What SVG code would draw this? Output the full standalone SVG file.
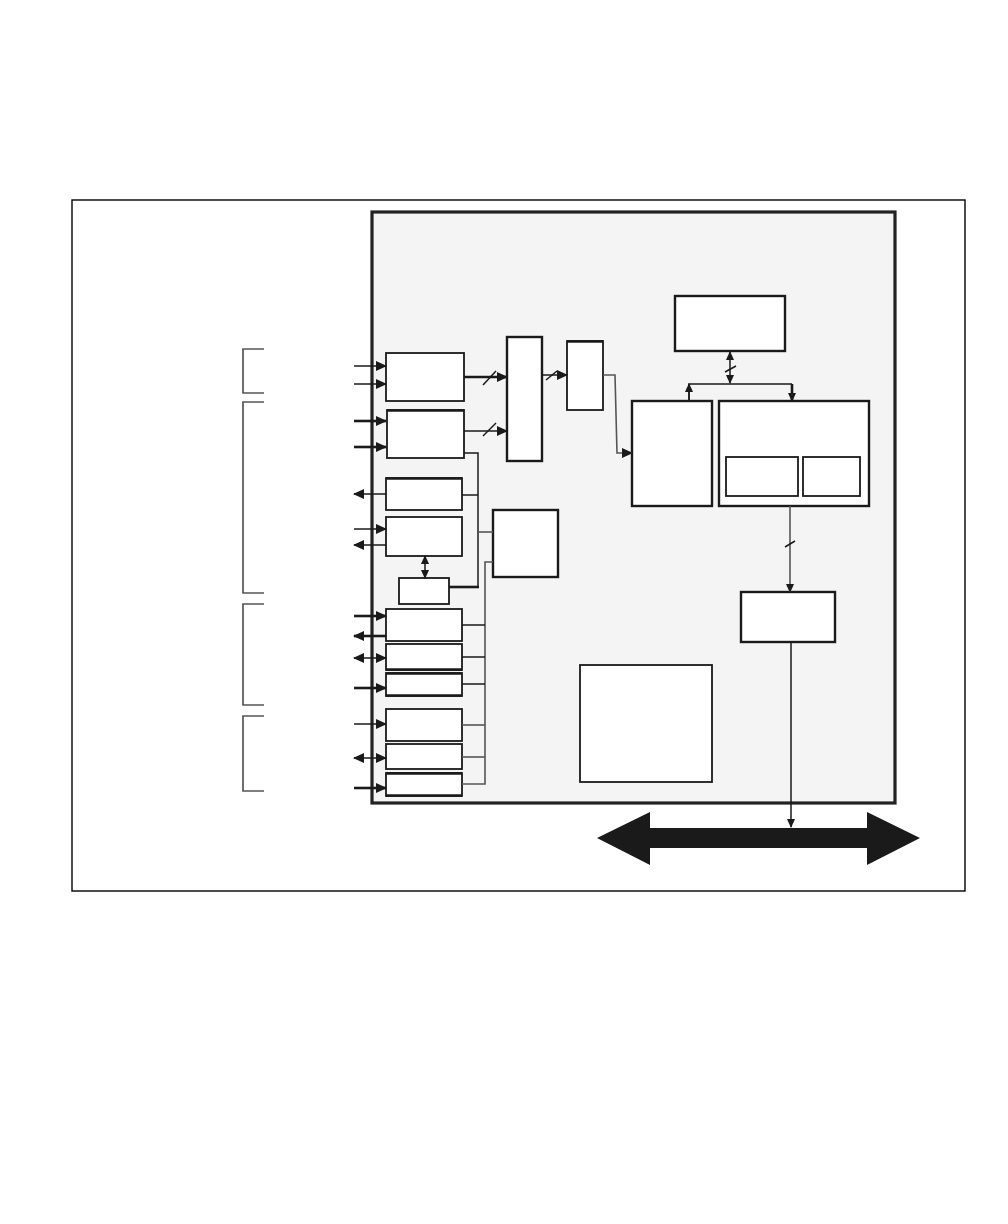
<svg xmlns="http://www.w3.org/2000/svg" width="1008" height="1224" viewBox="0 0 1008 1224">
<style>
.blk{fill:#fff;stroke:#1a1a1a;stroke-width:1.8}
.blk2{fill:#fff;stroke:#1a1a1a;stroke-width:2.4}
.ln{fill:none;stroke:#1a1a1a;stroke-width:1.5}
.lnk{fill:none;stroke:#1a1a1a;stroke-width:2.6}
.gr{fill:none;stroke:#555;stroke-width:1.6}
.br{fill:none;stroke:#555;stroke-width:1.7}
</style>
<defs>
<marker id="ah" markerUnits="userSpaceOnUse" markerWidth="11" markerHeight="10" refX="10" refY="5" orient="auto-start-reverse" viewBox="0 0 11 10">
<path d="M0,0 L11,5 L0,10 z" fill="#1a1a1a"/>
</marker>
<marker id="as" markerUnits="userSpaceOnUse" markerWidth="9" markerHeight="9" refX="8" refY="4.5" orient="auto-start-reverse" viewBox="0 0 9 9">
<path d="M0,0.5 L9,4.5 L0,8.5 z" fill="#1a1a1a"/>
</marker>
</defs>
<rect width="1008" height="1224" fill="#fff"/>
<rect id="frame" x="72" y="200" width="893" height="691" fill="#fff" stroke="#000" stroke-width="1.4"/>
<rect id="chip" x="372" y="212" width="523" height="591" fill="#f4f4f4" stroke="#222" stroke-width="3.2"/>
<g id="brackets">
<path class="br" d="M264,349 H243 V393 H264"/>
<path class="br" d="M264,402 H243 V593 H264"/>
<path class="br" d="M264,604 H243 V705 H264"/>
<path class="br" d="M264,716 H243 V791 H264"/>
</g>
<g id="b1"><rect class="blk" x="386" y="353" width="78" height="48"/></g>
<g id="b2"><rect class="blk" x="387" y="410" width="77" height="48"/><line x1="387" y1="410.5" x2="464" y2="410.5" stroke="#1a1a1a" stroke-width="2.6"/></g>
<g id="b3"><rect class="blk" x="386" y="478" width="76" height="32"/><line x1="386" y1="478.5" x2="462" y2="478.5" stroke="#1a1a1a" stroke-width="2.6"/></g>
<g id="b4"><rect class="blk" x="386" y="517" width="76" height="39"/></g>
<g id="b5"><rect class="blk" x="399" y="578" width="50" height="26"/></g>
<g id="b6"><rect class="blk" x="386" y="609" width="76" height="32"/></g>
<g id="b7"><rect class="blk" x="386" y="644" width="76" height="26"/><line x1="386" y1="669.5" x2="462" y2="669.5" stroke="#1a1a1a" stroke-width="2.6"/></g>
<g id="b8"><rect class="blk" x="386" y="673" width="76" height="23"/><line x1="386" y1="673.5" x2="462" y2="673.5" stroke="#1a1a1a" stroke-width="2.6"/><line x1="386" y1="695.5" x2="462" y2="695.5" stroke="#1a1a1a" stroke-width="2.6"/></g>
<g id="b9"><rect class="blk" x="386" y="709" width="76" height="32"/></g>
<g id="b10"><rect class="blk" x="386" y="744" width="76" height="25"/></g>
<g id="b11"><rect class="blk" x="386" y="773" width="76" height="23"/><line x1="386" y1="773.5" x2="462" y2="773.5" stroke="#1a1a1a" stroke-width="2.6"/><line x1="386" y1="795.5" x2="462" y2="795.5" stroke="#1a1a1a" stroke-width="2.6"/></g>
<g id="c"><rect class="blk2" x="493" y="510" width="65" height="67"/></g>
<g id="m"><rect class="blk2" x="507" y="337" width="35" height="124"/></g>
<g id="n"><rect class="blk" x="567" y="341" width="36" height="69"/><line x1="567" y1="341.5" x2="603" y2="341.5" stroke="#1a1a1a" stroke-width="2.6"/></g>
<g id="r"><rect class="blk2" x="675" y="296" width="110" height="55"/></g>
<g id="p"><rect class="blk2" x="632" y="401" width="80" height="105"/></g>
<g id="q"><rect class="blk2" x="719" y="401" width="150" height="105"/>
<rect class="blk" x="726" y="457" width="72" height="39"/>
<rect class="blk" x="803" y="457" width="57" height="39"/></g>
<g id="s"><rect class="blk2" x="741" y="592" width="94" height="50" stroke-width="2.6"/></g>
<g id="t"><rect class="blk" x="580" y="665" width="132" height="117"/></g>
<g id="bus"><path d="M597,838 L650,812 L650,828 L867,828 L867,812 L920,838 L867,865 L867,848 L650,848 L650,865 z" fill="#1a1a1a"/></g>
<g id="connectors">
<line class="ln" x1="354" y1="366" x2="386" y2="366" marker-end="url(#ah)"/>
<line class="ln" x1="354" y1="384" x2="386" y2="384" marker-end="url(#ah)"/>
<line class="lnk" x1="354" y1="421" x2="386" y2="421" marker-end="url(#ah)"/>
<line class="lnk" x1="354" y1="447" x2="386" y2="447" marker-end="url(#ah)"/>
<line class="ln" x1="386" y1="494" x2="354" y2="494" marker-end="url(#ah)"/>
<line class="ln" x1="354" y1="529" x2="386" y2="529" marker-end="url(#ah)"/>
<line class="ln" x1="386" y1="545" x2="354" y2="545" marker-end="url(#ah)"/>
<line class="lnk" x1="354" y1="616" x2="386" y2="616" marker-end="url(#ah)"/>
<line class="lnk" x1="386" y1="636" x2="354" y2="636" marker-end="url(#ah)"/>
<line class="ln" x1="354" y1="658" x2="386" y2="658" marker-start="url(#ah)" marker-end="url(#ah)"/>
<line class="lnk" x1="354" y1="688" x2="386" y2="688" marker-end="url(#ah)"/>
<line class="ln" x1="354" y1="724" x2="386" y2="724" marker-end="url(#ah)"/>
<line class="ln" x1="354" y1="758" x2="386" y2="758" marker-start="url(#ah)" marker-end="url(#ah)"/>
<line class="lnk" x1="354" y1="788" x2="386" y2="788" marker-end="url(#ah)"/>
<line class="ln" x1="425" y1="556" x2="425" y2="578" marker-start="url(#as)" marker-end="url(#as)"/>
<path class="ln" d="M464,453 H478 V587"/>
<line class="ln" x1="462" y1="495" x2="478" y2="495"/>
<path class="lnk" d="M449,587 H479"/>
<line class="gr" x1="478" y1="532" x2="493" y2="532"/>
<path class="gr" d="M493,562 H485 V784 H462"/>
<line class="ln" x1="462" y1="625" x2="485" y2="625"/>
<line class="ln" x1="462" y1="657" x2="485" y2="657"/>
<line class="ln" x1="462" y1="684" x2="485" y2="684"/>
<line class="gr" x1="462" y1="725" x2="485" y2="725"/>
<line class="gr" x1="462" y1="757" x2="485" y2="757"/>
<line class="lnk" x1="464" y1="377" x2="507" y2="377" marker-end="url(#ah)"/>
<line class="ln" x1="483" y1="385" x2="496" y2="371"/>
<line class="ln" x1="464" y1="431" x2="507" y2="431" marker-end="url(#ah)"/>
<line class="ln" x1="483" y1="436" x2="496" y2="423"/>
<line class="ln" x1="542" y1="375" x2="567" y2="375" marker-end="url(#ah)"/>
<line class="ln" x1="546" y1="380" x2="557" y2="371"/>
<path class="gr" d="M603,375 H615 L617,453 H632" marker-end="url(#ah)"/>
<line class="ln" x1="730" y1="352" x2="730" y2="383" marker-start="url(#as)" marker-end="url(#as)"/>
<line class="ln" x1="725" y1="372" x2="736" y2="366"/>
<path class="ln" d="M689,401 V384 H792"/>
<line class="ln" x1="689" y1="401" x2="689" y2="384" marker-end="url(#as)"/>
<line class="lnk" x1="792" y1="384" x2="792" y2="401" marker-end="url(#as)"/>
<line class="gr" x1="790" y1="506" x2="790" y2="592" marker-end="url(#as)"/>
<line class="ln" x1="785" y1="547" x2="795" y2="541"/>
<line class="ln" x1="791" y1="642" x2="791" y2="827" marker-end="url(#as)"/>
</g>
</svg>
